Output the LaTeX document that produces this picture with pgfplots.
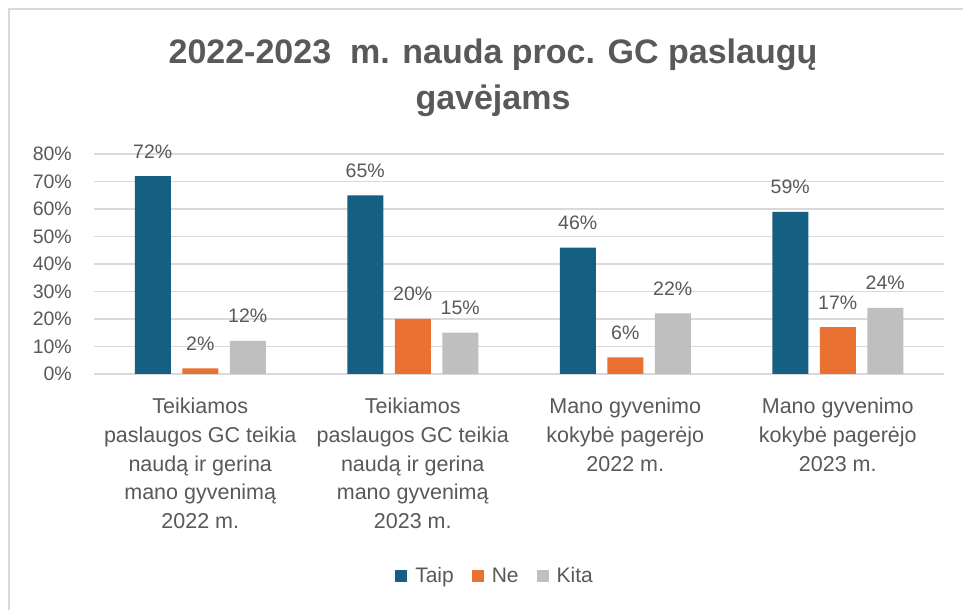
\documentclass[border=0pt]{standalone}
\usepackage{pgfplots}
\pgfplotsset{compat=1.18}
\usepackage{fontspec}
\setmainfont{Liberation Sans}
\definecolor{taip}{HTML}{156082}
\definecolor{ne}{HTML}{E97132}
\definecolor{kita}{HTML}{BFBFBF}
\definecolor{txt}{HTML}{595959}
\definecolor{grd}{HTML}{D9D9D9}
\begin{document}
\begin{tikzpicture}
\useasboundingbox (0,0) rectangle (963pt,610pt);
\fill[white] (0,0) rectangle (963pt,610pt);
\draw[grd, line width=2pt] (9pt,0) -- (9pt,601pt) -- (963pt,601pt);
\node[anchor=base, text=txt, font=\fontsize{34}{40}\selectfont\bfseries] at (493pt,546pt) {2022-2023\ \ m. nauda proc. GC paslaugų};
\node[anchor=base, text=txt, font=\fontsize{34}{40}\selectfont\bfseries] at (493pt,500pt) {gavėjams};
\begin{axis}[
  at={(94pt,236pt)}, anchor=south west,
  scale only axis, width=850pt, height=220pt,
  ybar=11.5pt, bar width=36pt,
  enlargelimits=false,
  xmin=-0.5, xmax=3.5, ymin=0, ymax=80,
  xtick={0,1,2,3},
  xticklabels={{Teikiamos\\paslaugos GC teikia\\naudą ir gerina\\mano gyvenimą\\2022 m.},
               {Teikiamos\\paslaugos GC teikia\\naudą ir gerina\\mano gyvenimą\\2023 m.},
               {Mano gyvenimo\\kokybė pagerėjo\\2022 m.},
               {Mano gyvenimo\\kokybė pagerėjo\\2023 m.}},
  xticklabel style={align=center, anchor=north, inner sep=0pt, yshift=-24pt, text=txt,
                    font=\fontsize{21.5}{28.7}\selectfont},
  ytick={0,10,...,80},
  yticklabel={\pgfmathprintnumber{\tick}\%},
  yticklabel style={anchor=east, inner sep=0pt, xshift=-22pt, text=txt,
                    font=\fontsize{19.5}{22}\selectfont},
  /pgf/number format/assume math mode=true,
  major tick length=0pt,
  tick style={draw=none},
  axis line style={draw=none},
  ymajorgrids,
  grid style={grd, line width=1.6pt},
  nodes near coords={\pgfmathprintnumber{\pgfplotspointmeta}\%},
  every node near coord/.append style={anchor=base, inner sep=0pt, yshift=18pt, text=txt,
                    font=\fontsize{19.5}{22}\selectfont},
  legend columns=-1,
  legend style={draw=none, fill=none, at={(0.4718,-0.918)}, anchor=center,
                font=\fontsize{21}{24}\selectfont, text=txt,
                /tikz/every odd column/.append style={column sep=6pt},
                /tikz/every even column/.append style={column sep=16pt}},
  legend image code/.code={\fill[#1] (0pt,-6pt) rectangle (12pt,6pt);},
]
\addplot[fill=taip, draw=none] coordinates {(0,72) (1,65) (2,46) (3,59)};
\addplot[fill=ne, draw=none] coordinates {(0,2) (1,20) (2,6) (3,17)};
\addplot[fill=kita, draw=none] coordinates {(0,12) (1,15) (2,22) (3,24)};
\legend{Taip,Ne,Kita}
\end{axis}
\end{tikzpicture}
\end{document}
